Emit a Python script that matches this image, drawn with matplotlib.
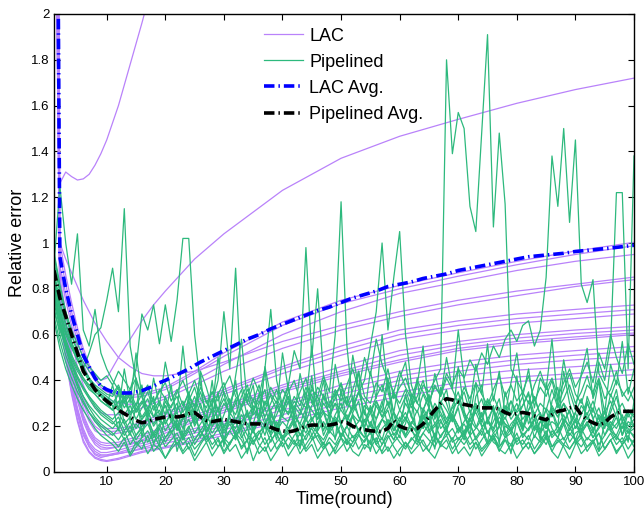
import numpy as np
import matplotlib.pyplot as plt

plt.rcParams['font.family'] = ['Liberation Sans', 'DejaVu Sans']

# rounds
rounds = np.arange(1, 101)

# LAC runs (read at a few rounds, smooth curves)
lac_x = [1, 2, 3, 4, 5, 6, 7, 8, 9, 10, 12, 14, 16, 18, 20, 25, 30, 40, 50, 60, 70, 80, 90, 100]
lac_a = [5.0, 1.00, 0.86, 0.74, 0.63, 0.54, 0.47, 0.42, 0.40, 0.41, 0.50, 0.58, 0.66, 0.73, 0.79, 0.93, 1.04, 1.23, 1.37, 1.466, 1.54, 1.61, 1.67, 1.72]
lac_b = [3.0, 1.00, 0.93, 0.87, 0.81, 0.75, 0.70, 0.65, 0.61, 0.57, 0.50, 0.46, 0.43, 0.42, 0.42, 0.44, 0.48, 0.57, 0.64, 0.70, 0.75, 0.79, 0.82, 0.851]
lac_c = [6.0, 0.95, 0.82, 0.70, 0.60, 0.52, 0.46, 0.41, 0.38, 0.36, 0.34, 0.335, 0.34, 0.355, 0.37, 0.44, 0.52, 0.655, 0.75, 0.815, 0.87, 0.92, 0.965, 1.003]
lac_d = [4.5, 0.90, 0.78, 0.67, 0.57, 0.50, 0.44, 0.40, 0.37, 0.35, 0.33, 0.325, 0.33, 0.345, 0.36, 0.43, 0.505, 0.64, 0.735, 0.80, 0.855, 0.905, 0.95, 0.988]
lac_e = [3.5, 0.88, 0.75, 0.64, 0.54, 0.47, 0.41, 0.37, 0.34, 0.32, 0.30, 0.295, 0.30, 0.315, 0.33, 0.40, 0.47, 0.60, 0.70, 0.78, 0.83, 0.88, 0.92, 0.95]
lac_f = [5.5, 0.85, 0.70, 0.57, 0.46, 0.38, 0.32, 0.28, 0.26, 0.25, 0.25, 0.26, 0.28, 0.30, 0.32, 0.38, 0.44, 0.54, 0.62, 0.68, 0.73, 0.77, 0.81, 0.84]
lac_g = [4.0, 0.82, 0.66, 0.52, 0.41, 0.32, 0.26, 0.22, 0.20, 0.19, 0.19, 0.20, 0.22, 0.24, 0.26, 0.31, 0.36, 0.46, 0.55, 0.62, 0.66, 0.69, 0.71, 0.729]
lac_h = [7.0, 0.80, 0.64, 0.50, 0.39, 0.30, 0.24, 0.20, 0.18, 0.175, 0.18, 0.19, 0.21, 0.23, 0.25, 0.30, 0.35, 0.45, 0.53, 0.60, 0.64, 0.67, 0.69, 0.709]
lac_i = [3.8, 0.78, 0.62, 0.48, 0.37, 0.28, 0.22, 0.18, 0.165, 0.16, 0.17, 0.18, 0.20, 0.22, 0.24, 0.29, 0.34, 0.43, 0.51, 0.58, 0.62, 0.65, 0.67, 0.69]
lac_j = [6.5, 0.77, 0.60, 0.46, 0.34, 0.25, 0.19, 0.15, 0.13, 0.125, 0.13, 0.145, 0.16, 0.18, 0.20, 0.25, 0.29, 0.38, 0.46, 0.53, 0.57, 0.60, 0.62, 0.636]
lac_k = [4.2, 0.76, 0.58, 0.44, 0.33, 0.24, 0.18, 0.14, 0.12, 0.115, 0.12, 0.135, 0.15, 0.17, 0.19, 0.24, 0.28, 0.37, 0.44, 0.51, 0.555, 0.585, 0.605, 0.62]
lac_l = [5.2, 0.74, 0.57, 0.43, 0.31, 0.22, 0.16, 0.12, 0.10, 0.10, 0.11, 0.125, 0.14, 0.16, 0.18, 0.23, 0.27, 0.36, 0.43, 0.49, 0.54, 0.57, 0.59, 0.607]
lac_m = [3.2, 0.75, 0.58, 0.44, 0.32, 0.23, 0.17, 0.13, 0.11, 0.105, 0.11, 0.12, 0.135, 0.15, 0.17, 0.22, 0.26, 0.35, 0.42, 0.48, 0.53, 0.56, 0.58, 0.60]
lac_n = [5.8, 0.73, 0.55, 0.40, 0.28, 0.19, 0.13, 0.10, 0.085, 0.085, 0.095, 0.11, 0.125, 0.14, 0.155, 0.19, 0.22, 0.30, 0.38, 0.44, 0.48, 0.51, 0.53, 0.548]
lac_o = [4.6, 0.72, 0.54, 0.39, 0.27, 0.18, 0.12, 0.09, 0.075, 0.075, 0.085, 0.10, 0.115, 0.13, 0.145, 0.18, 0.21, 0.29, 0.36, 0.42, 0.46, 0.49, 0.51, 0.527]
lac_p = [3.4, 0.70, 0.52, 0.37, 0.25, 0.16, 0.11, 0.08, 0.07, 0.07, 0.08, 0.09, 0.105, 0.12, 0.135, 0.17, 0.20, 0.27, 0.34, 0.40, 0.44, 0.47, 0.49, 0.505]
lac_q = [6.2, 0.71, 0.53, 0.38, 0.26, 0.17, 0.11, 0.075, 0.063, 0.07, 0.08, 0.09, 0.10, 0.11, 0.125, 0.155, 0.185, 0.25, 0.32, 0.38, 0.42, 0.445, 0.46, 0.476]
lac_r = [4.8, 0.69, 0.50, 0.35, 0.23, 0.14, 0.09, 0.065, 0.055, 0.05, 0.06, 0.075, 0.09, 0.10, 0.11, 0.14, 0.17, 0.23, 0.30, 0.35, 0.39, 0.415, 0.43, 0.447]
lac_s = [3.6, 0.68, 0.49, 0.34, 0.22, 0.13, 0.085, 0.06, 0.05, 0.046, 0.055, 0.07, 0.085, 0.095, 0.105, 0.13, 0.16, 0.22, 0.28, 0.33, 0.37, 0.395, 0.41, 0.425]
lac_w = [6.0, 1.26, 1.31, 1.29, 1.275, 1.28, 1.30, 1.34, 1.39, 1.45, 1.60, 1.78, 1.96, 2.15, 2.35, 2.9, 3.4, 4.3, 5.0, 5.6, 6.0, 6.3, 6.5, 6.7]

# Pipelined runs, in hundredths, one value per round
green_01 = [90, 125, 100, 82, 104, 62, 55, 71, 52, 45, 40, 36, 30, 34, 27, 31, 24, 29, 22, 33,
            26, 19, 28, 35, 24, 30, 21, 27, 18, 25, 32, 22, 28, 19, 26, 34, 23, 17, 29, 24,
            31, 20, 26, 35, 22, 28, 18, 25, 30, 21, 27, 33, 24, 19, 29, 23, 31, 20, 26, 22,
            30, 25, 18, 27, 34, 23, 29, 21, 26, 32, 24, 19, 28, 22, 31, 26, 20, 29, 23, 27,
            33, 21, 26, 18, 28, 24, 30, 22, 27, 19, 25, 31, 23, 28, 20, 26, 33, 22, 27, 24]
green_02 = [80, 68, 60, 54, 49, 45, 52, 60, 63, 75, 89, 70, 115, 55, 40, 33, 28, 24, 30, 21,
            26, 18, 23, 29, 20, 25, 17, 22, 28, 19, 24, 15, 21, 27, 18, 23, 16, 25, 20, 14,
            22, 28, 19, 24, 16, 21, 26, 18, 23, 15, 20, 25, 17, 22, 28, 19, 14, 23, 18, 24,
            16, 21, 27, 19, 24, 15, 22, 18, 25, 20, 14, 23, 19, 26, 17, 22, 28, 16, 21, 24,
            18, 25, 15, 22, 19, 27, 17, 23, 20, 14, 21, 26, 18, 24, 16, 22, 19, 25, 17, 21]
green_03 = [95, 80, 70, 62, 56, 50, 46, 43, 40, 42, 38, 44, 40, 36, 45, 69, 62, 73, 56, 73,
            57, 75, 102, 102, 60, 38, 30, 35, 27, 32, 25, 30, 36, 24, 29, 22, 31, 27, 20, 26,
            33, 25, 21, 28, 34, 23, 27, 19, 25, 30, 22, 28, 35, 26, 20, 29, 24, 31, 21, 27,
            33, 24, 19, 28, 23, 30, 26, 21, 29, 35, 25, 20, 27, 32, 23, 28, 21, 26, 31, 24,
            19, 27, 33, 25, 22, 29, 24, 30, 21, 26, 32, 23, 28, 20, 26, 31, 24, 19, 27, 25]
green_04 = [88, 74, 65, 57, 50, 45, 41, 38, 36, 34, 33, 37, 31, 35, 29, 34, 38, 30, 36, 32,
            28, 35, 40, 33, 29, 37, 31, 26, 34, 39, 30, 36, 28, 33, 41, 35, 29, 37, 32, 27,
            35, 40, 31, 28, 36, 33, 42, 30, 34, 38, 29, 36, 44, 33, 30, 39, 35, 45, 32, 37,
            41, 34, 30, 38, 35, 40, 45, 180, 139, 157, 150, 116, 105, 148, 191, 107, 148, 117, 45, 40,
            35, 42, 31, 37, 33, 40, 29, 36, 43, 34, 30, 38, 35, 41, 32, 36, 44, 33, 37, 31]
green_05 = [82, 70, 61, 55, 49, 44, 40, 37, 34, 32, 30, 34, 28, 32, 26, 30, 35, 27, 31, 25,
            29, 33, 26, 31, 37, 28, 24, 32, 27, 35, 29, 25, 33, 38, 27, 31, 24, 30, 36, 28,
            26, 33, 29, 37, 31, 25, 34, 28, 32, 39, 30, 27, 35, 31, 26, 33, 38, 29, 34, 30,
            36, 28, 33, 40, 31, 37, 34, 43, 38, 45, 41, 49, 44, 52, 47, 55, 50, 58, 62, 57,
            64, 66, 55, 62, 85, 138, 116, 150, 109, 145, 82, 74, 84, 43, 38, 33, 40, 35, 31, 37]
green_06 = [78, 66, 58, 51, 46, 41, 37, 34, 31, 29, 27, 31, 25, 29, 23, 28, 32, 24, 27, 21,
            26, 30, 23, 27, 33, 25, 21, 28, 24, 30, 26, 22, 29, 34, 25, 28, 21, 27, 31, 24,
            22, 29, 25, 31, 27, 23, 30, 26, 21, 28, 33, 25, 22, 29, 26, 31, 24, 28, 35, 27,
            23, 30, 26, 34, 28, 24, 31, 27, 22, 29, 35, 26, 30, 24, 28, 33, 27, 23, 31, 26,
            29, 34, 25, 30, 27, 36, 28, 32, 38, 30, 35, 42, 33, 48, 40, 55, 122, 122, 45, 138]
green_07 = [76, 64, 57, 50, 45, 41, 38, 35, 33, 31, 29, 27, 31, 25, 28, 23, 26, 21, 25, 29,
            22, 19, 24, 28, 21, 25, 18, 23, 27, 20, 24, 17, 22, 26, 19, 23, 28, 20, 25, 31,
            38, 53, 45, 98, 50, 80, 42, 35, 60, 118, 55, 30, 24, 20, 26, 19, 23, 27, 18, 22,
            26, 20, 17, 23, 28, 21, 25, 19, 24, 18, 22, 27, 20, 16, 23, 19, 26, 21, 17, 24,
            20, 25, 18, 22, 27, 19, 15, 23, 20, 26, 18, 22, 17, 25, 21, 19, 24, 16, 22, 20]
green_08 = [84, 71, 62, 55, 49, 44, 40, 37, 35, 33, 31, 28, 33, 26, 30, 24, 28, 32, 25, 29,
            23, 27, 31, 24, 28, 35, 26, 30, 40, 70, 45, 89, 38, 30, 27, 33, 45, 71, 40, 29,
            25, 31, 27, 22, 29, 33, 26, 24, 30, 27, 23, 29, 35, 40, 55, 70, 100, 62, 85, 105,
            60, 38, 30, 27, 33, 25, 29, 23, 28, 31, 26, 22, 29, 24, 32, 27, 21, 28, 25, 30,
            23, 27, 32, 25, 21, 28, 24, 30, 26, 22, 29, 25, 31, 23, 27, 20, 26, 30, 24, 28]
green_09 = [92, 78, 68, 60, 53, 48, 44, 41, 38, 36, 34, 38, 32, 36, 41, 33, 37, 30, 35, 39,
            31, 36, 29, 34, 40, 32, 28, 35, 31, 37, 42, 33, 29, 36, 31, 38, 27, 34, 30, 36,
            32, 28, 35, 41, 30, 37, 33, 29, 36, 31, 38, 45, 36, 50, 42, 58, 47, 40, 35, 44,
            37, 32, 40, 35, 30, 38, 33, 41, 36, 30, 37, 32, 39, 34, 29, 36, 42, 33, 38, 31,
            35, 30, 38, 44, 36, 41, 33, 39, 45, 37, 42, 48, 39, 52, 45, 60, 50, 43, 56, 47]
green_10 = [70, 62, 55, 49, 44, 40, 36, 34, 31, 29, 38, 27, 45, 30, 52, 33, 24, 41, 29, 48,
            35, 26, 55, 31, 22, 44, 37, 28, 50, 34, 25, 42, 58, 30, 38, 21, 46, 33, 27, 52,
            36, 24, 43, 31, 55, 28, 40, 22, 47, 34, 29, 51, 37, 25, 44, 32, 60, 35, 26, 41,
            48, 30, 38, 55, 27, 43, 33, 50, 36, 62, 40, 29, 47, 34, 56, 31, 44, 25, 39, 52,
            33, 45, 28, 41, 36, 58, 30, 49, 35, 27, 43, 54, 32, 40, 26, 47, 38, 57, 34, 45]
green_11 = [86, 73, 64, 56, 50, 45, 41, 37, 34, 31, 29, 18, 36, 22, 41, 15, 27, 33, 12, 25,
            38, 20, 14, 31, 26, 43, 17, 24, 35, 11, 28, 40, 19, 13, 32, 24, 45, 21, 16, 30,
            37, 23, 10, 27, 42, 18, 33, 25, 14, 36, 22, 29, 44, 17, 12, 31, 26, 39, 20, 15,
            34, 24, 41, 19, 28, 13, 37, 30, 22, 46, 27, 16, 33, 38, 21, 29, 12, 35, 25, 42,
            18, 31, 24, 14, 39, 27, 20, 44, 30, 23, 15, 33, 26, 40, 19, 28, 36, 22, 13, 31]
green_12 = [74, 63, 54, 47, 41, 37, 33, 30, 27, 25, 23, 26, 21, 24, 19, 23, 27, 20, 24, 18,
            22, 26, 19, 23, 17, 21, 25, 20, 24, 18, 22, 19, 25, 21, 17, 23, 20, 26, 18, 22,
            19, 24, 21, 17, 23, 26, 20, 18, 24, 21, 25, 19, 22, 27, 20, 17, 23, 21, 26, 19,
            23, 20, 18, 24, 21, 27, 19, 22, 25, 20, 17, 23, 26, 20, 22, 18, 24, 21, 19, 25,
            21, 18, 23, 26, 19, 22, 20, 25, 18, 23, 20, 24, 19, 22, 26, 18, 21, 24, 20, 23]
green_13 = [80, 66, 56, 48, 42, 37, 33, 29, 26, 24, 22, 19, 23, 17, 21, 18, 24, 16, 20, 23,
            17, 21, 15, 19, 24, 18, 14, 20, 23, 17, 21, 16, 19, 25, 18, 14, 20, 17, 22, 15,
            19, 23, 16, 20, 14, 18, 22, 17, 21, 15, 20, 24, 18, 15, 21, 17, 23, 19, 14, 20,
            16, 22, 19, 25, 18, 21, 15, 20, 24, 17, 21, 16, 19, 23, 17, 14, 20, 24, 18, 22,
            15, 19, 23, 17, 21, 16, 20, 14, 19, 22, 17, 21, 15, 20, 24, 18, 16, 22, 19, 15]
green_14 = [72, 60, 51, 44, 38, 33, 29, 26, 23, 21, 19, 22, 16, 20, 14, 18, 21, 15, 19, 13,
            17, 21, 14, 18, 12, 16, 20, 15, 19, 13, 18, 14, 21, 16, 12, 17, 20, 13, 18, 15,
            11, 16, 19, 14, 20, 17, 12, 18, 15, 21, 16, 13, 19, 15, 22, 17, 12, 18, 14, 20,
            15, 19, 13, 17, 21, 16, 12, 18, 14, 19, 16, 21, 14, 18, 12, 17, 20, 15, 19, 13,
            17, 14, 20, 16, 12, 18, 15, 21, 13, 17, 19, 14, 18, 12, 16, 20, 15, 13, 18, 16]
green_15 = [88, 70, 57, 47, 39, 33, 28, 24, 21, 19, 17, 14, 18, 12, 16, 19, 13, 17, 11, 15,
            18, 12, 16, 10, 14, 18, 13, 16, 11, 15, 12, 17, 14, 9, 15, 18, 12, 16, 10, 14,
            17, 13, 11, 16, 19, 14, 10, 15, 12, 17, 14, 11, 16, 13, 18, 12, 9, 15, 17, 13,
            10, 15, 12, 17, 14, 11, 16, 19, 13, 15, 12, 16, 10, 14, 18, 13, 11, 15, 17, 12,
            14, 10, 16, 13, 18, 11, 15, 12, 17, 14, 11, 15, 13, 17, 10, 14, 16, 12, 15, 13]
green_16 = [68, 57, 48, 41, 35, 30, 26, 23, 20, 18, 16, 19, 14, 17, 12, 15, 18, 13, 16, 11,
            14, 17, 12, 15, 10, 13, 17, 12, 15, 9, 13, 16, 11, 14, 18, 12, 9, 14, 17, 11,
            15, 12, 17, 10, 14, 16, 11, 13, 9, 15, 12, 16, 10, 14, 17, 12, 15, 9, 13, 16,
            11, 14, 17, 12, 9, 15, 13, 16, 10, 14, 17, 12, 15, 10, 13, 16, 11, 14, 9, 15,
            12, 16, 10, 14, 17, 11, 13, 15, 10, 14, 16, 11, 14, 9, 13, 17, 12, 15, 10, 14]
green_17 = [82, 66, 54, 45, 37, 31, 26, 22, 19, 16, 14, 11, 15, 8, 13, 10, 16, 9, 12, 6,
            11, 15, 9, 13, 7, 12, 16, 10, 14, 8, 12, 17, 10, 14, 5, 11, 15, 9, 13, 16,
            10, 14, 8, 12, 16, 9, 13, 7, 11, 15, 9, 13, 17, 10, 14, 8, 12, 16, 11, 7,
            13, 10, 15, 9, 12, 17, 11, 14, 8, 12, 16, 10, 13, 7, 11, 15, 9, 14, 12, 17,
            10, 13, 8, 12, 16, 9, 14, 11, 6, 12, 15, 9, 13, 17, 10, 14, 8, 12, 16, 11]
green_18 = [66, 54, 45, 38, 32, 27, 23, 19, 16, 14, 12, 9, 13, 7, 11, 14, 8, 12, 10, 6,
            10, 13, 8, 11, 5, 9, 13, 7, 11, 14, 9, 12, 6, 10, 14, 8, 11, 5, 9, 13,
            7, 11, 14, 9, 12, 6, 10, 13, 8, 11, 14, 9, 7, 12, 10, 15, 8, 11, 6, 10,
            13, 8, 11, 14, 9, 6, 12, 10, 15, 8, 11, 7, 13, 9, 12, 16, 10, 8, 12, 6,
            10, 13, 8, 11, 15, 9, 6, 12, 10, 14, 8, 11, 13, 7, 10, 14, 9, 12, 6, 10]
green_19 = [96, 82, 70, 60, 52, 46, 41, 37, 33, 30, 27, 35, 21, 16, 29, 38, 24, 12, 20, 31,
            26, 9, 18, 34, 28, 15, 22, 40, 19, 13, 25, 32, 17, 8, 21, 30, 36, 23, 14, 27,
            33, 19, 11, 24, 38, 28, 16, 22, 35, 20, 12, 26, 31, 18, 9, 23, 29, 41, 25, 17,
            21, 34, 14, 27, 19, 10, 30, 36, 22, 28, 16, 24, 39, 20, 13, 26, 32, 18, 8, 23,
            29, 35, 19, 25, 14, 31, 37, 21, 27, 12, 18, 30, 24, 9, 22, 34, 28, 16, 26, 20]
green_20 = [77, 64, 55, 47, 41, 36, 32, 28, 25, 23, 21, 24, 18, 22, 16, 20, 23, 17, 21, 15,
            19, 23, 16, 20, 14, 18, 22, 17, 21, 15, 18, 22, 15, 19, 13, 17, 21, 16, 20, 14,
            18, 22, 16, 20, 24, 17, 14, 19, 22, 16, 20, 15, 18, 23, 17, 13, 19, 22, 16, 20,
            24, 18, 15, 21, 17, 20, 23, 16, 19, 14, 18, 21, 15, 19, 23, 17, 14, 20, 18, 22,
            16, 19, 23, 17, 21, 15, 18, 22, 16, 20, 17, 21, 15, 19, 23, 18, 14, 20, 17, 19]

# averages
lac_avg_x = [1, 2, 3, 4, 5, 6, 7, 8, 9, 10, 11, 12, 13, 14, 15, 16, 17, 18, 19, 20,
             22, 24, 26, 28, 30, 32, 34, 36, 38, 40, 42, 44, 46, 48, 50, 52, 54, 56, 58, 60,
             62, 64, 66, 68, 70, 72, 74, 76, 78, 80, 82, 84, 86, 88, 90, 92, 94, 96, 98, 100]
lac_avg = [5.0, 0.94, 0.80, 0.69, 0.60, 0.51, 0.46, 0.41, 0.375, 0.36, 0.35, 0.345, 0.345, 0.345, 0.35, 0.355, 0.365, 0.375, 0.39, 0.40,
           0.425, 0.45, 0.48, 0.505, 0.53, 0.555, 0.58, 0.60, 0.625, 0.645, 0.665, 0.685, 0.705, 0.72, 0.74, 0.76, 0.775, 0.79, 0.81, 0.82,
           0.83, 0.845, 0.855, 0.865, 0.88, 0.89, 0.90, 0.91, 0.92, 0.93, 0.94, 0.945, 0.95, 0.955, 0.963, 0.968, 0.973, 0.978, 0.984, 0.99]
pipe_avg = [0.88, 0.76, 0.68, 0.60, 0.52, 0.44, 0.40, 0.36, 0.33, 0.31, 0.29, 0.27, 0.255, 0.24, 0.225, 0.215, 0.22, 0.23, 0.235, 0.24,
            0.245, 0.24, 0.245, 0.255, 0.26, 0.24, 0.225, 0.22, 0.225, 0.23, 0.225, 0.22, 0.215, 0.21, 0.21, 0.21, 0.205, 0.195, 0.185, 0.18,
            0.175, 0.18, 0.19, 0.20, 0.205, 0.205, 0.205, 0.205, 0.21, 0.22, 0.215, 0.20, 0.19, 0.185, 0.18, 0.178, 0.177, 0.19, 0.225, 0.20,
            0.19, 0.185, 0.19, 0.21, 0.24, 0.27, 0.30, 0.32, 0.315, 0.305, 0.295, 0.29, 0.285, 0.28, 0.28, 0.28, 0.275, 0.26, 0.25, 0.255,
            0.26, 0.255, 0.245, 0.235, 0.228, 0.25, 0.265, 0.27, 0.28, 0.286, 0.25, 0.228, 0.215, 0.205, 0.215, 0.24, 0.255, 0.265, 0.265, 0.265]

yticks = [0, 0.2, 0.4, 0.6, 0.8, 1, 1.2, 1.4, 1.6, 1.8, 2]
ytick_labels = ['0', '0.2', '0.4', '0.6', '0.8', '1', '1.2', '1.4', '1.6', '1.8', '2']
xticks = [10, 20, 30, 40, 50, 60, 70, 80, 90, 100]

purple = '#b982fa'
green = '#2db97d'

lac_runs = [lac_a, lac_b, lac_c, lac_d, lac_e, lac_f, lac_g, lac_h, lac_i, lac_j,
            lac_k, lac_l, lac_m, lac_n, lac_o, lac_p, lac_q, lac_r, lac_s, lac_w]
pipe_runs = [green_01, green_02, green_03, green_04, green_05, green_06, green_07, green_08, green_09, green_10,
             green_11, green_12, green_13, green_14, green_15, green_16, green_17, green_18, green_19, green_20]

fig = plt.figure(figsize=(6.44, 5.12), dpi=100)
ax = fig.add_axes([54/644, 40/512, 580/644, 458/512])

for i, run in enumerate(lac_runs):
    ax.plot(lac_x, run, color=purple, lw=0.9, label="LAC" if i == 0 else None)
for i, run in enumerate(pipe_runs):
    ax.plot(rounds, np.array(run)/100, color=green, lw=0.9, label="Pipelined" if i == 0 else None)

dashdot = (0, (2.9, 1.1, 0.4, 1.1))
ax.plot(lac_avg_x, lac_avg, color='#0000ff', lw=2.6, ls=dashdot, label="LAC Avg.")
ax.plot(rounds, pipe_avg, color='black', lw=2.6, ls=dashdot, label="Pipelined Avg.")

ax.set_xlim(1, 100)
ax.set_ylim(0, 2)
ax.set_xticks(xticks)
ax.set_yticks(yticks)
ax.set_yticklabels(ytick_labels)
ax.tick_params(direction='in', length=4, width=0.8, labelsize=9.5, top=True, right=True, pad=3)
for s in ax.spines.values():
    s.set_linewidth(1.0)

ax.set_xlabel("Time(round)", fontsize=13, labelpad=2)
ax.set_ylabel("Relative error", fontsize=13, labelpad=4)

leg = ax.legend(loc='upper left', bbox_to_anchor=(0.362, 0.970), frameon=False, fontsize=13,
                handlelength=2.15, handletextpad=0.35, labelspacing=0.5, borderpad=0, borderaxespad=0)

plt.savefig("out.png", dpi=100, facecolor="white")
